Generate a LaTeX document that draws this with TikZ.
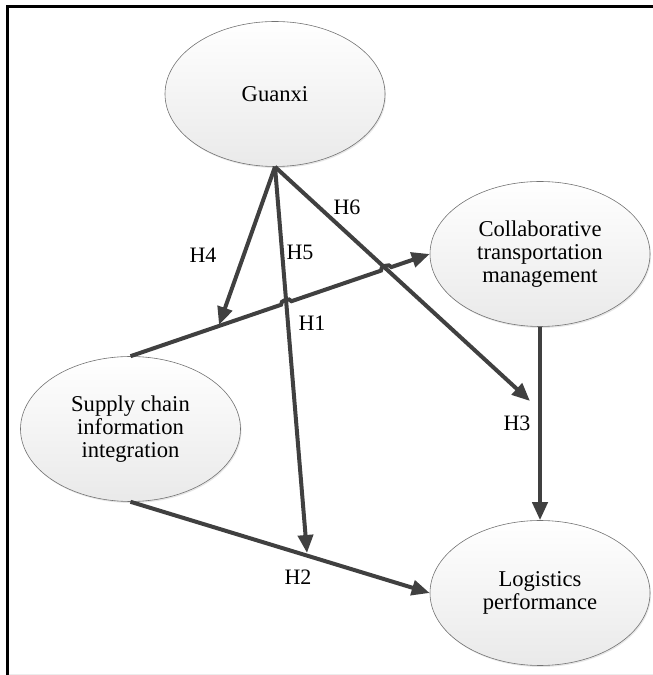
\documentclass[tikz,border=0pt]{standalone}
\usepackage{fontspec}
\setmainfont{Liberation Serif}
\usetikzlibrary{arrows.meta,shapes.geometric,shadows,calc,intersections}

\begin{document}
\begin{tikzpicture}[x=1pt,y=1pt,
    construct/.style={ellipse,draw=gray!90!black,line width=0.6pt,
      top color=white,bottom color=gray!17,
      drop shadow={shadow xshift=1pt,shadow yshift=-1.5pt,opacity=0.2},
      minimum width=220pt,minimum height=145pt,inner sep=0pt,align=center,
      font=\fontsize{22.6}{23.3}\selectfont},
    link/.style={draw=black!75,line width=4pt,
      -{Triangle[length=18pt,width=15pt]}},
    hyp/.style={font=\fontsize{22}{24}\selectfont}]
    \useasboundingbox (0,0) rectangle (653,675);

    \draw [line width=3pt] (7,0) -- (7,668.5) -- (653,668.5);
    \draw [gray!15,line width=1pt] (8.5,0.5) -- (653,0.5);

    \node [construct] (guanxi) at (275,581) {Guanxi};
    \node [construct] (ctm) at (540,421)
    {Collaborative\\transportation\\management};
    \node [construct] (scii) at (130.5,246)
    {Supply chain\\information\\integration};
    \node [construct] (lp) at (540,82) {Logistics\\performance};

    \coordinate (h4end) at (219,350);
    \coordinate (h5end) at (307,122);
    \coordinate (h6end) at (530,274);

    \draw [link,name path=h4] (guanxi.south) -- (h4end);
    \draw [link,name path=h5] (guanxi.south) -- (h5end);
    \draw [link,name path=h6] (guanxi.south) -- (h6end);

    % H1 hops over H5 and H6
    \path [name path=h1] (scii.north) -- (ctm.west);
    \path [name intersections={of=h1 and h5,by=x5}];
    \path [name intersections={of=h1 and h6,by=x6}];
    \draw [link] (scii.north) -- ($(x5)!5.5pt!(scii.north)$)
    to[bend left=90] ($(x5)!5.5pt!(ctm.west)$)
    -- ($(x6)!5.5pt!(scii.north)$)
    to[bend left=90] ($(x6)!5.5pt!(ctm.west)$) -- (ctm.west);

    \draw [link] (scii.south) -- (lp.west);
    \draw [link] (ctm.south) -- (lp.north);

    \node [hyp] (h1) at (312,352) {H1};
    \node [hyp] (h2) at (298,98) {H2};
    \node [hyp] (h3) at (517,252) {H3};
    \node [hyp] (h4) at (203,420) {H4};
    \node [hyp] (h5) at (300,423) {H5};
    \node [hyp] (h6) at (347,468) {H6};
  \end{tikzpicture}
\end{document}
